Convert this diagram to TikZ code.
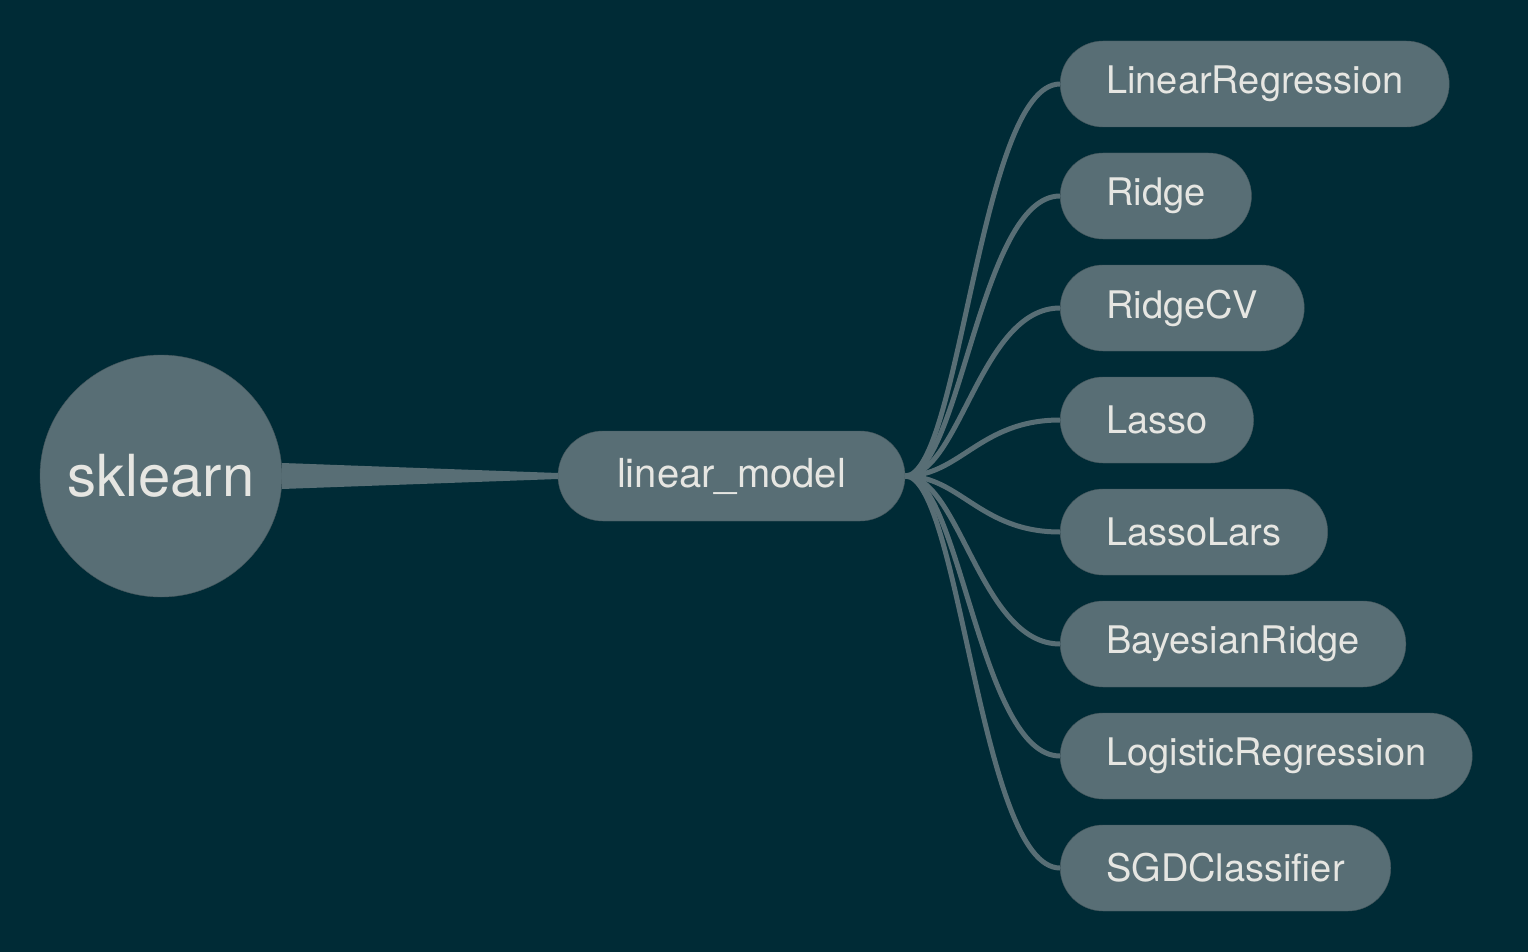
\documentclass[tikz,border=0pt]{standalone}
\usepackage{fontspec}
\setmainfont{TeX Gyre Heros}
\definecolor{bg}{HTML}{002B36}
\definecolor{nd}{HTML}{586E75}
\definecolor{tx}{HTML}{E6E6E2}
\begin{document}
\begin{tikzpicture}[x=1pt,y=-1pt,
  leaf/.style={draw=nd!80!black,fill=nd,rounded corners=43pt,minimum height=86pt,anchor=west,inner xsep=46pt,text=tx,font=\fontsize{38}{40}\selectfont},
  link/.style={draw=nd,line width=5pt}]
\fill[bg] (0,0) rectangle (1528,952);
\useasboundingbox (0,0) rectangle (1528,952);
\node[circle,draw=nd!80!black,fill=nd,minimum size=242pt,text=tx,font=\fontsize{58}{60}\selectfont] (root) at (161,476) {sklearn};
\node[draw=nd!80!black,fill=nd,rounded corners=45pt,minimum height=90pt,minimum width=347pt,text=tx,font=\fontsize{40}{42}\selectfont] (lm) at (731.5,476) {linear\_model};
\fill[nd] (root.east) ++(0,-13) -- (lm.west) -- ([yshift=13pt]root.east) -- cycle;
\fill[nd] (282,463) -- (558,473) -- (558,479) -- (282,489) -- cycle;
\foreach \n/\t/\y in {a/LinearRegression/84,b/Ridge/196,c/RidgeCV/308,d/Lasso/420,e/LassoLars/532,f/BayesianRidge/644,g/LogisticRegression/756,h/SGDClassifier/868}{
  \node[leaf] (\n) at (1060,\y) {\t};
  \draw[link] (lm.east) .. controls (960,476) and (980,\y) .. (\n.west);
}
\end{tikzpicture}
\end{document}
